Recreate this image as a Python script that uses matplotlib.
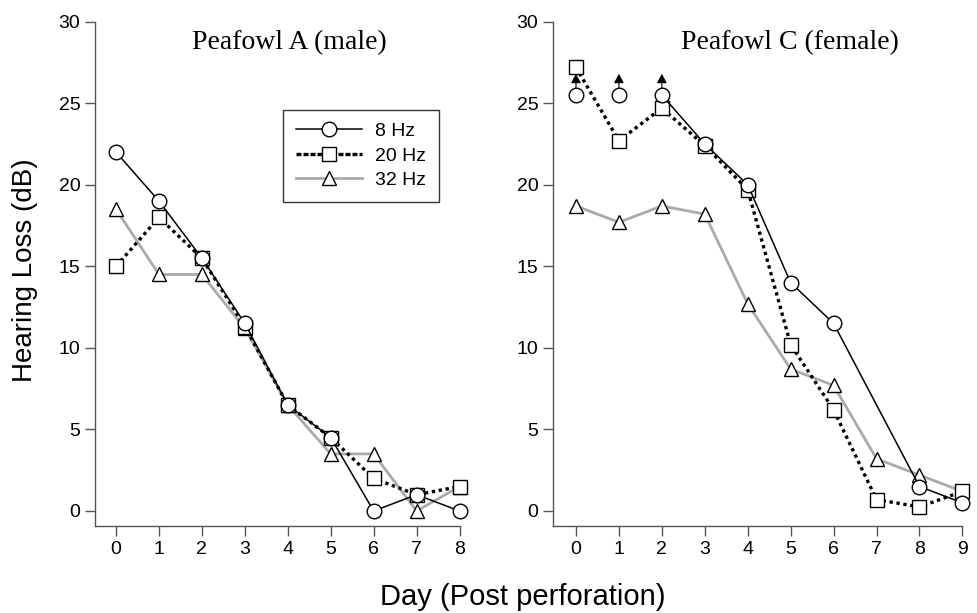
import matplotlib
matplotlib.use("Agg")
import matplotlib.pyplot as plt
from matplotlib.lines import Line2D

# ---- data ----
days_a = [0, 1, 2, 3, 4, 5, 6, 7, 8]
a_8hz = [22, 19, 15.5, 11.5, 6.5, 4.5, 0, 1, 0]
a_20hz = [15, 18, 15.5, 11.3, 6.5, 4.5, 2, 1, 1.5]
a_32hz = [18.5, 14.5, 14.5, 11.2, 6.5, 3.5, 3.5, 0, 1.5]

days_c = [0, 1, 2, 3, 4, 5, 6, 7, 8, 9]
c_8hz = [25.5, 25.5, 25.5, 22.5, 20, 14, 11.5, None, 1.5, 0.5]
c_20hz = [27.2, 22.7, 24.7, 22.4, 19.7, 10.2, 6.2, 0.7, 0.25, 1.2]
c_32hz = [18.7, 17.7, 18.7, 18.2, 12.7, 8.7, 7.7, 3.2, 2.2, 1.2]
c_arrow_days = [0, 1, 2]

yticks = [0, 5, 10, 15, 20, 25, 30]
titles = ["Peafowl A (male)", "Peafowl C (female)"]
legend_labels = ["8 Hz", "20 Hz", "32 Hz"]

plt.rcParams['font.family'] = ['Liberation Sans', 'DejaVu Sans']

fig = plt.figure(figsize=(9.78, 6.13), dpi=100)
W, H = 978, 613

def px_axes(left, right, bottom, top):
    return fig.add_axes([left / W, 1 - bottom / H, (right - left) / W, (bottom - top) / H])

ax1 = px_axes(95, 481, 526, 7)
ax2 = px_axes(553, 971, 526, 7)

gray = '#aaaaaa'
spc = '#555555'
ms = 10.5

def style(ax, days, xlim):
    ax.set_xlim(*xlim)
    ax.set_ylim(-0.92, 30.9)
    for s in ['top', 'right']:
        ax.spines[s].set_visible(False)
    for s in ['left', 'bottom']:
        ax.spines[s].set_color(spc)
        ax.spines[s].set_linewidth(1.0)
    ax.spines['left'].set_bounds(-0.92, 30)
    ax.spines['bottom'].set_bounds(xlim[0], days[-1])
    ax.set_xticks(days)
    ax.set_yticks(yticks)
    ax.tick_params(direction='out', length=7, width=1.0, color=spc,
                   labelsize=14, pad=3.5)

# Peafowl A
ax1.plot(days_a, a_32hz, color=gray, lw=2.0, marker='^', ms=ms,
         mfc='white', mec='black', mew=1.0, zorder=2)
ax1.plot(days_a, a_20hz, color='black', lw=2.4, ls=(0, (1, 1.1)), marker='s', ms=ms,
         mfc='white', mec='black', mew=1.0, zorder=3)
ax1.plot(days_a, a_8hz, color='black', lw=1.1, marker='o', ms=ms,
         mfc='white', mec='black', mew=1.0, zorder=4)
style(ax1, days_a, (-0.49, 8.5))

# Peafowl C: 8 Hz line, skipping missing value at day 7
c8_days = [d for d, v in zip(days_c, c_8hz) if v is not None]
c8_vals = [v for v in c_8hz if v is not None]
ax2.plot(days_c, c_32hz, color=gray, lw=2.0, marker='^', ms=ms,
         mfc='white', mec='black', mew=1.0, zorder=2)
ax2.plot(days_c, c_20hz, color='black', lw=2.4, ls=(0, (1, 1.1)), marker='s', ms=ms,
         mfc='white', mec='black', mew=1.0, zorder=3)
ax2.plot(c8_days[2:], c8_vals[2:], color='black', lw=1.1, zorder=4)
ax2.plot(c8_days, c8_vals, ls='none', marker='o', ms=ms,
         mfc='white', mec='black', mew=1.0, zorder=5)
for d in c_arrow_days:
    ax2.annotate('', xy=(d, 26.8), xytext=(d, 25.95),
                 arrowprops=dict(arrowstyle='-|>,head_length=0.55,head_width=0.3',
                                 color='black', lw=0.8, shrinkA=0, shrinkB=0),
                 zorder=6)
style(ax2, days_c, (-0.535, 9.2))

for t, x in [(titles[0], 289), (titles[1], 790)]:
    fig.text(x / W, 1 - 43 / H, t, family='Liberation Serif', fontsize=20,
             ha='center', va='center')

handles = [
    Line2D([], [], color='black', lw=1.1, marker='o', ms=ms, mfc='white', mec='black'),
    Line2D([], [], color='black', lw=2.4, ls=(0, (1.5, 0.6)), marker='s', ms=ms, mfc='white', mec='black'),
    Line2D([], [], color=gray, lw=2.0, marker='^', ms=ms, mfc='white', mec='black'),
]
leg = ax1.legend(handles, legend_labels, loc='upper left',
                 bbox_to_anchor=((283 - 95) / 386, 1 - (110 - 7) / 519),
                 fontsize=14, frameon=True, fancybox=False, edgecolor='black',
                 handlelength=3.4, handletextpad=0.7, labelspacing=0.35,
                 borderpad=0.65, borderaxespad=0)
leg.get_frame().set_linewidth(1.0)

fig.text(25 / W, 1 - 270 / H, "Hearing Loss (dB)", rotation=90, fontsize=20,
         ha='center', va='center')
fig.text(523 / W, 1 - 597 / H, "Day (Post perforation)", fontsize=21,
         ha='center', va='center')

fig.savefig("out.png", dpi=100)
